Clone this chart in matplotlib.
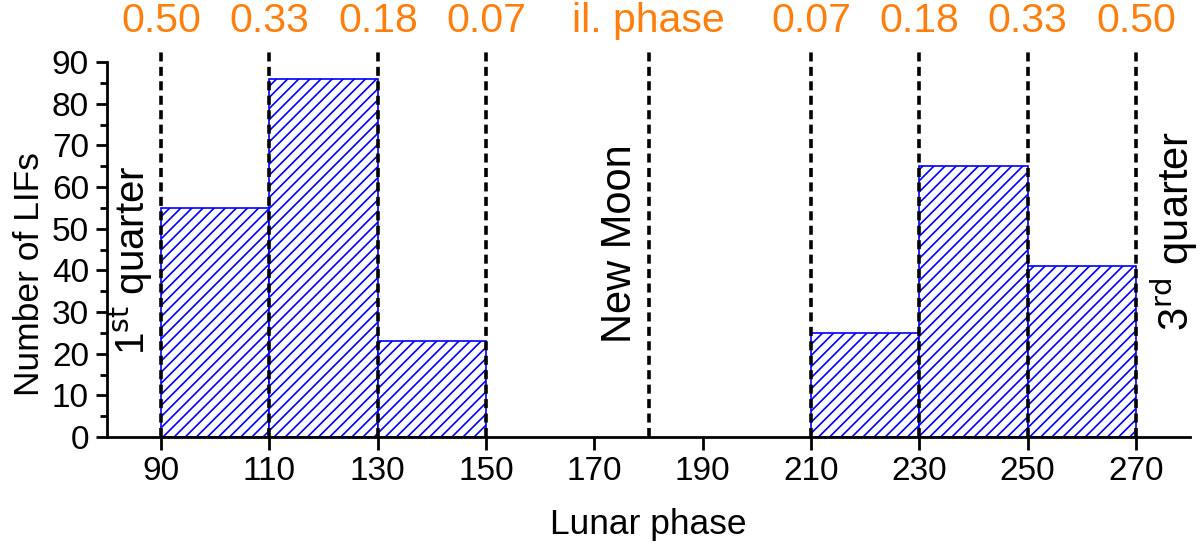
import matplotlib
matplotlib.use("Agg")
import matplotlib.pyplot as plt
import matplotlib.transforms as mtransforms
from matplotlib.ticker import MultipleLocator

plt.rcParams['font.family'] = ['Liberation Sans', 'DejaVu Sans']
plt.rcParams['hatch.linewidth'] = 1.2
plt.rcParams['hatch.color'] = 'blue'

# data
bin_left = [90, 110, 130, 210, 230, 250]
bin_width = 20
counts = [55, 86, 23, 25, 65, 41]
phase_lines = [90, 110, 130, 150, 180, 210, 230, 250, 270]
top_labels = ["0.50", "0.33", "0.18", "0.07", "il. phase", "0.07", "0.18", "0.33", "0.50"]
x_ticks = [90, 110, 130, 150, 170, 190, 210, 230, 250, 270]

fig = plt.figure(figsize=(12, 5.49), dpi=100)
ax = fig.add_axes([107 / 1200, 1 - 437 / 549, 1083 / 1200, 375 / 549])

ax.bar(bin_left, counts, width=bin_width, align='edge', facecolor='white',
       edgecolor='blue', hatch='///', linewidth=1.2, zorder=2)

for xv in phase_lines:
    ax.plot([xv, xv], [0, 93], color='black', lw=2.6, ls=(0, (2.5, 1.5)),
            clip_on=False, zorder=3)

trans = mtransforms.blended_transform_factory(ax.transData, fig.transFigure)
for xv, lab in zip(phase_lines, top_labels):
    ax.text(xv, 1 - 21 / 549, lab, transform=trans, ha='center', va='center',
            color='#FF7F0E', fontsize=29.5)

ax.text(84.4, 19.7, r"1$^{\rm st}$ quarter", rotation=90, ha='center', va='bottom',
        fontsize=29)
ax.text(174.7, 22.6, "New Moon", rotation=90, ha='center', va='bottom', fontsize=30)
ax.text(277.0, 25.5, r"3$^{\rm rd}$ quarter", rotation=90, ha='center', va='bottom',
        fontsize=30)

ax.set_xlim(80, 280)
ax.set_ylim(0, 90)
ax.set_xticks(x_ticks)
ax.yaxis.set_major_locator(MultipleLocator(10))
ax.yaxis.set_minor_locator(MultipleLocator(5))

for s in ['top', 'right']:
    ax.spines[s].set_visible(False)
for s in ['left', 'bottom']:
    ax.spines[s].set_linewidth(2)

ax.tick_params(axis='x', which='major', direction='out', length=9, width=2,
               labelsize=24, pad=5)
ax.tick_params(axis='y', which='major', direction='out', length=8, width=2,
               labelsize=24, pad=5)
ax.tick_params(axis='y', which='minor', direction='out', length=5, width=2)

ax.set_xlabel("Lunar phase", fontsize=25.5)
ax.set_ylabel("Number of LIFs", fontsize=25.5)
ax.xaxis.set_label_coords(0.5, -0.189)
ax.yaxis.set_label_coords(-0.056, 0.435)

fig.savefig("out.png", dpi=100)
